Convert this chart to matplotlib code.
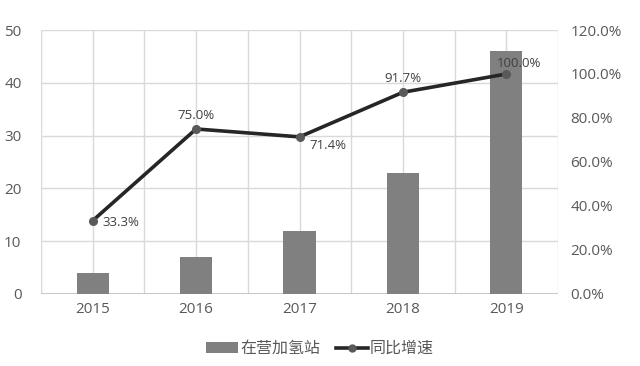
import matplotlib.pyplot as plt
import numpy as np
from matplotlib.ticker import FuncFormatter, MultipleLocator
from matplotlib.lines import Line2D
from matplotlib.patches import Patch

plt.rcParams['font.family'] = ['Open Sans', 'Noto Sans CJK SC', 'DejaVu Sans']

years = ["2015", "2016", "2017", "2018", "2019"]
stations = [4, 7, 12, 23, 46]
growth = [0.333, 0.750, 0.714, 0.917, 1.000]
growth_labels = ["33.3%", "75.0%", "71.4%", "91.7%", "100.0%"]

bar_color = "#808080"
line_color = "#262626"
grid_color = "#d9d9d9"
text_color = "#595959"

fig = plt.figure(figsize=(6.4, 3.66), dpi=100)
ax = fig.add_axes([0.064, 0.197, 0.808, 0.721])
ax2 = ax.twinx()

x = np.arange(len(years))
ax.bar(x, stations, width=0.31, color=bar_color, zorder=2)

ax.set_xlim(-0.5, len(years) - 0.5)
ax.set_ylim(0, 50)
ax.yaxis.set_major_locator(MultipleLocator(10))
ax.set_xticks(x)
ax.set_xticklabels(years)
ax.set_xticks(np.arange(-0.5, len(years), 1.0), minor=True)
ax.grid(axis="both", which="major", color=grid_color, linewidth=1, zorder=0)
ax.grid(axis="x", which="minor", color=grid_color, linewidth=1, zorder=0)
ax.set_axisbelow(True)

ax2.plot(x, growth, color=line_color, linewidth=2.6, marker="o",
         markersize=5.5, markerfacecolor="#595959", markeredgecolor="#595959",
         zorder=3)
ax2.set_ylim(0, 1.2)
ax2.yaxis.set_major_locator(MultipleLocator(0.2))
ax2.yaxis.set_major_formatter(FuncFormatter(lambda v, p: f"{v * 100:.1f}%"))

offsets = [(7, -1, "left", "center"), (0, 5, "center", "bottom"),
           (7, -6, "left", "center"), (0, 5, "center", "bottom"),
           (-7, 3, "left", "bottom")]
for xi, yi, label, (dx, dy, ha, va) in zip(x, growth, growth_labels, offsets):
    ax2.annotate(label, (xi, yi), xytext=(dx, dy), textcoords="offset points",
                 ha=ha, va=va, fontsize=9.5, color="#404040")

for a in (ax, ax2):
    for side in ("top", "left", "right", "bottom"):
        a.spines[side].set_visible(False)
    a.tick_params(length=0, labelsize=11, colors=text_color, pad=6)
ax.tick_params(axis="x", which="minor", length=0)
ax.axhline(0, color="#bfbfbf", linewidth=1.2, zorder=1)
ax.tick_params(axis="y", pad=14)
ax2.tick_params(axis="y", pad=9)

handles = [Patch(facecolor=bar_color, edgecolor="none"),
           Line2D([0], [0], color=line_color, linewidth=2.6, marker="o",
                  markersize=5, markerfacecolor="#595959",
                  markeredgecolor="#595959")]
fig.legend(handles, ["在营加氢站", "同比增速"], loc="lower center",
           bbox_to_anchor=(0.5, -0.015), ncol=2, frameon=False, fontsize=11.5,
           labelcolor=text_color, handlelength=2.0, handletextpad=0.1,
           columnspacing=1.0)

fig.savefig("out.png", dpi=100)
